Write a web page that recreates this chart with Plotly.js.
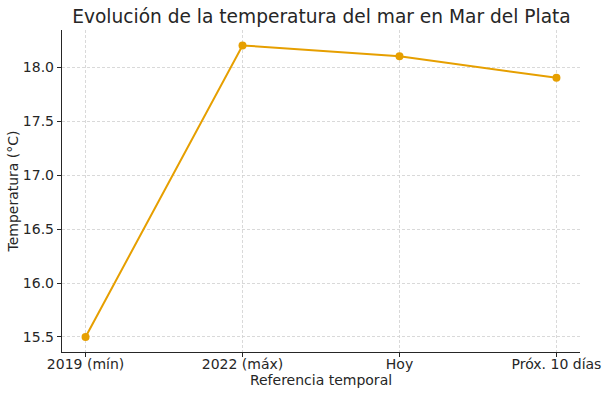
<!DOCTYPE html>
<html><head><meta charset="utf-8">
<script src="https://cdn.plot.ly/plotly-3.0.1.min.js"></script>
<style>html,body{margin:0;padding:0;background:#fff}</style>
</head><body>
<div id="chart" style="width:610px;height:397px"></div>
<script>
const categories = ["2019 (mín)", "2022 (máx)", "Hoy", "Próx. 10 días"];
const temperatures = [15.5, 18.2, 18.1, 17.9];
const yTicks = [15.5, 16.0, 16.5, 17.0, 17.5, 18.0];
const yTickText = ["15.5", "16.0", "16.5", "17.0", "17.5", "18.0"];

const font = "DejaVu Sans, sans-serif";
Plotly.newPlot("chart", [{
  x: categories.map((c, i) => i),
  y: temperatures,
  type: "scatter",
  mode: "lines+markers",
  line: {color: "#E69F00", width: 2},
  marker: {color: "#E69F00", size: 8},
  hoverinfo: "skip"
}], {
  width: 610, height: 397,
  margin: {l: 62, r: 30, t: 30, b: 45},
  paper_bgcolor: "#fff", plot_bgcolor: "#fff",
  showlegend: false,
  title: {text: "Evolución de la temperatura del mar en Mar del Plata", font: {family: font, size: 18.6, color: "#262626"}, x: 0.527, xanchor: "center", y: 0.975, yanchor: "top"},
  xaxis: {
    range: [-0.15, 3.15],
    tickvals: [0, 1, 2, 3], ticktext: categories,
    tickfont: {family: font, size: 14, color: "#262626"},
    ticks: "outside", ticklen: 4, tickcolor: "#262626",
    ticklabelposition: "outside",
    ticklabelstandoff: -5,
    showline: true, linecolor: "#262626", linewidth: 1.2,
    showgrid: true, gridcolor: "#cfcfcf", griddash: "3px,2px", gridwidth: 0.8,
    zeroline: false,
    title: {text: "Referencia temporal", font: {family: font, size: 14, color: "#262626"}, standoff: 4}
  },
  yaxis: {
    range: [15.361, 18.343],
    tickvals: yTicks, ticktext: yTickText,
    tickfont: {family: font, size: 14, color: "#262626"},
    ticks: "outside", ticklen: 4, tickcolor: "#262626",
    showline: true, linecolor: "#262626", linewidth: 1.2,
    showgrid: true, gridcolor: "#cfcfcf", griddash: "3px,2px", gridwidth: 0.8,
    zeroline: false,
    title: {text: "Temperatura (°C)", font: {family: font, size: 14, color: "#262626"}, standoff: 1}
  }
}, {staticPlot: true});
</script>
</body></html>
